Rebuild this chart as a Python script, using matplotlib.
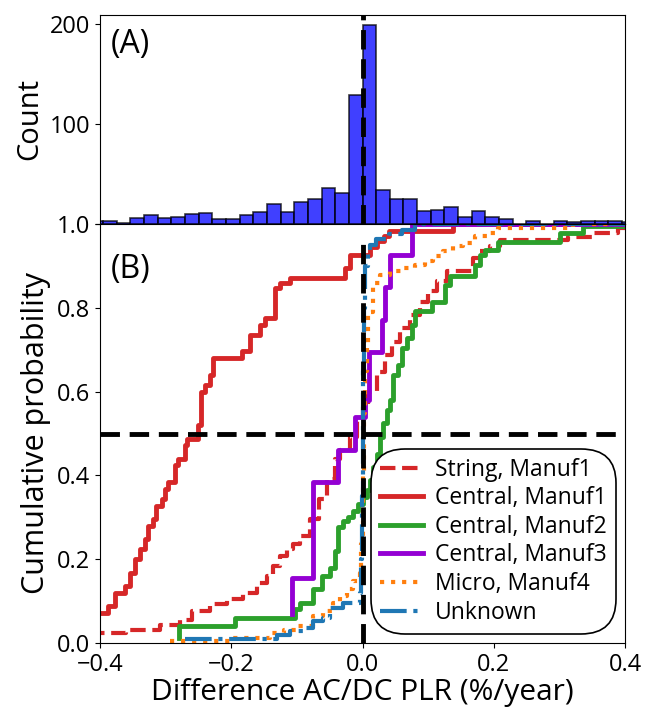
import numpy as np
import matplotlib
matplotlib.use("Agg")
import matplotlib.pyplot as plt

plt.rcParams['font.family'] = ['Open Sans', 'DejaVu Sans']

# histogram of AC/DC PLR difference (bin index -> count), bin width in %/year
bin_width = 0.0208
bin_index = list(range(-20, 20))
bin_counts = [3, 3, 1, 6, 9, 6, 7, 10, 11, 5, 5, 9, 12, 20, 12, 22, 25, 36, 31, 129,
              199, 34, 25, 25, 13, 14, 17, 7, 13, 7, 5, 0, 3, 0, 3, 2, 3, 3, 3, 2]

# cumulative distributions (step curves)
string_m1_x = [-0.45, -0.36, -0.309, -0.278, -0.26, -0.2325, -0.207, -0.182, -0.161, -0.146,
               -0.136, -0.126, -0.1156, -0.1055, -0.095, -0.08, -0.067, -0.0546, -0.042, -0.034,
               -0.019, -0.0088, 0.0013, 0.0089, 0.0216, 0.0343, 0.0445, 0.057, 0.0724, 0.0877,
               0.1, 0.113, 0.128, 0.169, 0.179, 0.194, 0.21, 0.313, 0.35, 0.39, 0.45]
string_m1_y = [0.024, 0.03, 0.044, 0.056, 0.076, 0.092, 0.104, 0.12, 0.144, 0.16,
               0.184, 0.208, 0.224, 0.236, 0.256, 0.296, 0.344, 0.392, 0.44, 0.46,
               0.492, 0.532, 0.564, 0.599, 0.647, 0.687, 0.719, 0.751, 0.783, 0.815,
               0.839, 0.863, 0.887, 0.919, 0.935, 0.947, 0.963, 0.97, 0.979, 0.991, 1.0]

central_m1_x = [-0.45, -0.3875, -0.377, -0.362, -0.354, -0.347, -0.339, -0.331, -0.3265, -0.319,
                -0.314, -0.306, -0.301, -0.296, -0.286, -0.281, -0.271, -0.268, -0.25, -0.246,
                -0.24, -0.2325, -0.2274, -0.184, -0.1715, -0.156, -0.149, -0.133, -0.126, -0.1105,
                -0.027, -0.019, 0.011, 0.022, 0.032, 0.04, 0.138, 0.45]
central_m1_y = [0.072, 0.088, 0.12, 0.136, 0.168, 0.2, 0.224, 0.248, 0.28, 0.296,
                0.328, 0.344, 0.368, 0.384, 0.424, 0.44, 0.472, 0.488, 0.52, 0.6,
                0.616, 0.64, 0.68, 0.696, 0.736, 0.76, 0.776, 0.848, 0.86, 0.872,
                0.895, 0.927, 0.944, 0.96, 0.972, 0.983, 1.0, 1.0]

central_m2_x = [-0.279, -0.279, -0.194, -0.103, -0.095, -0.075, -0.062, -0.05, -0.042, -0.037,
                -0.029, -0.0216, -0.014, -0.0064, 0.0013, 0.0064, 0.0114, 0.0165, 0.0216, 0.0267,
                0.0317, 0.0369, 0.042, 0.047, 0.0546, 0.0597, 0.0673, 0.075, 0.08, 0.1055,
                0.1258, 0.1334, 0.1715, 0.179, 0.1867, 0.207, 0.301, 0.3366, 0.45]
central_m2_y = [0.012, 0.04, 0.0585, 0.08, 0.096, 0.13, 0.16, 0.18, 0.22, 0.276,
                0.292, 0.30, 0.316, 0.332, 0.348, 0.364, 0.388, 0.42, 0.452, 0.492,
                0.524, 0.556, 0.58, 0.639, 0.663, 0.703, 0.727, 0.759, 0.793, 0.813,
                0.855, 0.875, 0.903, 0.927, 0.937, 0.958, 0.979, 0.995, 1.0]

central_m3_x = [-0.108, -0.108, -0.076, -0.037, -0.011, 0.004, 0.010, 0.029, 0.034, 0.042, 0.075, 0.45]
central_m3_y = [0.07, 0.155, 0.385, 0.46, 0.54, 0.58, 0.695, 0.77, 0.85, 0.925, 1.0, 1.0]

micro_m4_x = [-0.293, -0.202, -0.141, -0.12, -0.1, -0.075, -0.06, -0.0445, -0.034, -0.024,
              -0.014, -0.004, -0.002, 0.0, 0.002, 0.004, 0.0064, 0.008, 0.0165, 0.0267,
              0.042, 0.06, 0.08, 0.095, 0.108, 0.123, 0.138, 0.1537, 0.1715, 0.189,
              0.207, 0.32, 0.45]
micro_m4_y = [0.004, 0.012, 0.024, 0.03, 0.04, 0.064, 0.076, 0.096, 0.112, 0.128,
              0.148, 0.168, 0.236, 0.4, 0.55, 0.65, 0.703, 0.79, 0.859, 0.879,
              0.887, 0.895, 0.903, 0.911, 0.923, 0.935, 0.947, 0.955, 0.971, 0.979,
              0.99, 1.0, 1.0]

unknown_x = [-0.27, -0.13, -0.11, -0.09, -0.075, -0.06, -0.05, -0.03, -0.004, -0.002,
             -0.001, 0.0, 0.001, 0.002, 0.004, 0.008, 0.012, 0.02, 0.04, 0.06, 0.08, 0.45]
unknown_y = [0.01, 0.02, 0.028, 0.036, 0.052, 0.06, 0.084, 0.096, 0.12, 0.2,
             0.35, 0.5, 0.65, 0.8, 0.9, 0.93, 0.95, 0.965, 0.975, 0.985, 1.0, 1.0]

series = [
    ("String, Manuf1", string_m1_x, string_m1_y, "tab:red", "--", 3),
    ("Central, Manuf1", central_m1_x, central_m1_y, "tab:red", "-", 3.5),
    ("Central, Manuf2", central_m2_x, central_m2_y, "tab:green", "-", 3.5),
    ("Central, Manuf3", central_m3_x, central_m3_y, "darkviolet", "-", 3.5),
    ("Micro, Manuf4", micro_m4_x, micro_m4_y, "tab:orange", ":", 3),
    ("Unknown", unknown_x, unknown_y, "tab:blue", "-.", 3),
]

fig = plt.figure(figsize=(6.45, 7.1), dpi=100)
W, H = 645.0, 710.0
ax1 = fig.add_axes([100 / W, 1 - 224 / H, 525 / W, 209 / H])
ax2 = fig.add_axes([100 / W, 1 - 643 / H, 525 / W, 419 / H])

# (A) histogram
lefts = np.array(bin_index) * bin_width
ax1.bar(lefts, bin_counts, width=bin_width, align='edge', color='b', alpha=0.75,
        edgecolor='k', linewidth=1.2)
ax1.axvline(0, color='k', ls='--', lw=3.5, dashes=(4, 2))
ax1.set_xlim(-0.4, 0.4)
ax1.set_ylim(0, 209)
ax1.set_xticks([])
ax1.set_yticks([0, 100, 200])
ax1.set_yticklabels(['', '100', '200'])
ax1.set_ylabel('Count', fontsize=21)
ax1.tick_params(labelsize=17)
ax1.text(0.02, 0.94, '(A)', transform=ax1.transAxes, fontsize=23, va='top')

# (B) cumulative probability
for label, xs, ys, col, ls, lw in series:
    ax2.step(xs, ys, where='post', color=col, ls=ls, lw=lw, label=label)
ax2.axhline(0.5, color='k', ls='--', lw=3.5, dashes=(4, 2))
ax2.axvline(0, ymax=0.97, color='k', ls='--', lw=3.5, dashes=(4, 2))
ax2.set_xlim(-0.4, 0.4)
ax2.set_ylim(0, 1.0)
ax2.set_xticks([-0.4, -0.2, 0.0, 0.2, 0.4])
ax2.set_yticks([0.0, 0.2, 0.4, 0.6, 0.8, 1.0])
ax2.tick_params(labelsize=17)
ax2.set_xlabel('Difference AC/DC PLR (%/year)', fontsize=21.5, labelpad=1)
ax2.set_ylabel('Cumulative probability', fontsize=22)
ax2.text(0.02, 0.93, '(B)', transform=ax2.transAxes, fontsize=23, va='top')

leg = ax2.legend(loc='lower right', fontsize=16.5, frameon=True, fancybox=True,
                 edgecolor='k', framealpha=1, handlelength=1.9, handletextpad=0.5,
                 labelspacing=0.2, borderaxespad=0.45, borderpad=0.35)
leg.get_frame().set_boxstyle('round', pad=0.05, rounding_size=1.5)
leg.get_frame().set_linewidth(1.2)

fig.savefig('out.png', dpi=100)
